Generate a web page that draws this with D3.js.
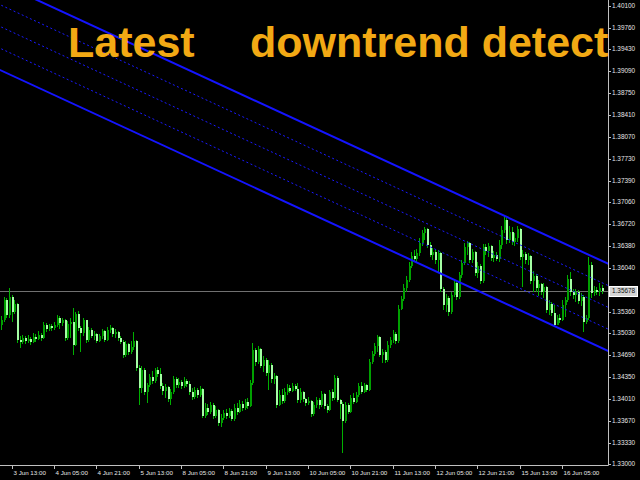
<!DOCTYPE html>
<html><head><meta charset="utf-8">
<script src="https://cdn.jsdelivr.net/npm/d3@7"></script>
<style>html,body{margin:0;padding:0;background:#000;} svg{display:block}</style>
</head><body>
<svg id="chart" width="640" height="480"></svg>
<script>
// ---------- data (H1 bars, 3 Jun 09:00 .. 16 Jun) ----------
const firstOpen = 1.3516;
const closes = [
1.3523,1.3554,1.3531,1.3559,1.3536,1.3548,1.3492,1.3489,1.3495,1.3491,
1.3494,1.3489,1.3497,1.3494,1.3500,1.3495,1.3516,1.3509,1.3514,1.3511,
1.3516,1.3526,1.3519,1.3523,1.3495,1.3517,1.3520,1.3485,1.3533,1.3511,
1.3503,1.3523,1.3492,1.3508,1.3498,1.3502,1.3491,1.3498,1.3506,1.3492,
1.3508,1.3511,1.3502,1.3505,1.3495,1.3489,1.3469,1.3486,1.3474,1.3481,
1.3491,1.3449,1.3418,1.3446,1.3412,1.3423,1.3435,1.3429,1.3446,1.3440,
1.3421,1.3413,1.3419,1.3401,1.3412,1.3432,1.3423,1.3427,1.3421,1.3429,
1.3424,1.3412,1.3404,1.3415,1.3407,1.3416,1.3374,1.3387,1.3381,1.3392,
1.3374,1.3384,1.3364,1.3371,1.3379,1.3374,1.3382,1.3370,1.3387,1.3381,
1.3393,1.3387,1.3396,1.3390,1.3426,1.3477,1.3458,1.3478,1.3452,1.3461,
1.3441,1.3454,1.3432,1.3436,1.3392,1.3407,1.3398,1.3412,1.3418,1.3413,
1.3421,1.3416,1.3399,1.3412,1.3401,1.3395,1.3398,1.3378,1.3392,1.3399,
1.3392,1.3409,1.3390,1.3384,1.3412,1.3402,1.3433,1.3399,1.3393,1.3367,
1.3392,1.3381,1.3402,1.3396,1.3407,1.3421,1.3412,1.3423,1.3415,1.3458,
1.3471,1.3483,1.3497,1.3469,1.3474,1.3461,1.3485,1.3492,1.3502,1.3491,
1.3540,1.3556,1.3573,1.3585,1.3607,1.3622,1.3618,1.3627,1.3643,1.3658,
1.3664,1.3640,1.3624,1.3629,1.3616,1.3627,1.3571,1.3547,1.3557,1.3536,
1.3562,1.3581,1.3559,1.3593,1.3612,1.3636,1.3643,1.3616,1.3629,1.3596,
1.3607,1.3584,1.3636,1.3630,1.3638,1.3619,1.3624,1.3618,1.3640,1.3663,
1.3678,1.3647,1.3660,1.3644,1.3650,1.3664,1.3621,1.3626,1.3616,1.3622,
1.3584,1.3591,1.3573,1.3579,1.3567,1.3574,1.3539,1.3548,1.3534,1.3516,
1.3526,1.3523,1.3547,1.3554,1.3587,1.3567,1.3562,1.3567,1.3553,1.3559,
1.3520,1.3526,1.3609,1.3565,1.3570,1.3567,1.3573,1.35678
];
const highs = [
1.3529,1.3559,1.3557,1.3573,1.3562,1.3554,1.3550,1.3498,1.3500,1.3498,
1.3500,1.3497,1.3503,1.3502,1.3506,1.3503,1.3520,1.3519,1.3517,1.3517,
1.3520,1.3531,1.3529,1.3526,1.3525,1.3522,1.3526,1.3542,1.3536,1.3537,
1.3514,1.3526,1.3523,1.3512,1.3511,1.3506,1.3503,1.3502,1.3509,1.3508,
1.3512,1.3516,1.3512,1.3509,1.3506,1.3498,1.3492,1.3491,1.3488,1.3491,
1.3505,1.3492,1.3454,1.3452,1.3449,1.3426,1.3440,1.3444,1.3449,1.3450,
1.3449,1.3426,1.3424,1.3421,1.3416,1.3436,1.3435,1.3433,1.3430,1.3435,
1.3432,1.3429,1.3418,1.3419,1.3418,1.3421,1.3418,1.3395,1.3393,1.3396,
1.3395,1.3390,1.3385,1.3378,1.3384,1.3385,1.3387,1.3385,1.3393,1.3395,
1.3399,1.3398,1.3401,1.3402,1.3430,1.3488,1.3480,1.3483,1.3480,1.3467,
1.3464,1.3461,1.3457,1.3441,1.3438,1.3415,1.3416,1.3418,1.3424,1.3423,
1.3426,1.3424,1.3426,1.3418,1.3413,1.3402,1.3404,1.3399,1.3396,1.3404,
1.3402,1.3413,1.3410,1.3393,1.3415,1.3416,1.3438,1.3436,1.3401,1.3396,
1.3396,1.3395,1.3407,1.3410,1.3412,1.3426,1.3427,1.3426,1.3424,1.3463,
1.3475,1.3488,1.3500,1.3498,1.3478,1.3477,1.3491,1.3497,1.3508,1.3505,
1.3547,1.3560,1.3579,1.3591,1.3613,1.3629,1.3632,1.3633,1.3650,1.3663,
1.3667,1.3666,1.3644,1.3635,1.3632,1.3632,1.3629,1.3574,1.3564,1.3560,
1.3567,1.3585,1.3584,1.3598,1.3616,1.3643,1.3646,1.3644,1.3633,1.3630,
1.3613,1.3610,1.3641,1.3641,1.3643,1.3640,1.3630,1.3629,1.3647,1.3669,
1.3684,1.3681,1.3669,1.3667,1.3658,1.3669,1.3666,1.3632,1.3629,1.3627,
1.3624,1.3599,1.3595,1.3585,1.3581,1.3581,1.3576,1.3554,1.3551,1.3547,
1.3531,1.3533,1.3554,1.3559,1.3593,1.3598,1.3571,1.3571,1.3570,1.3565,
1.3562,1.3531,1.3621,1.3613,1.3576,1.3574,1.3581,1.3578
];
const lows = [
1.3508,1.3520,1.3526,1.3526,1.3520,1.3533,1.3488,1.3480,1.3486,1.3486,
1.3488,1.3485,1.3488,1.3489,1.3492,1.3491,1.3494,1.3505,1.3506,1.3506,
1.3508,1.3512,1.3509,1.3514,1.3491,1.3492,1.3495,1.3469,1.3483,1.3506,
1.3474,1.3498,1.3488,1.3489,1.3495,1.3492,1.3488,1.3489,1.3494,1.3489,
1.3491,1.3503,1.3497,1.3495,1.3491,1.3486,1.3464,1.3466,1.3469,1.3471,
1.3477,1.3444,1.3392,1.3410,1.3407,1.3395,1.3419,1.3424,1.3426,1.3435,
1.3416,1.3407,1.3402,1.3396,1.3392,1.3409,1.3418,1.3418,1.3416,1.3418,
1.3419,1.3407,1.3399,1.3401,1.3402,1.3404,1.3371,1.3371,1.3376,1.3378,
1.3370,1.3371,1.3359,1.3357,1.3368,1.3370,1.3371,1.3367,1.3367,1.3376,
1.3379,1.3382,1.3384,1.3385,1.3388,1.3423,1.3452,1.3455,1.3449,1.3443,
1.3436,1.3415,1.3426,1.3424,1.3387,1.3390,1.3393,1.3395,1.3407,1.3410,
1.3412,1.3413,1.3395,1.3395,1.3396,1.3390,1.3392,1.3373,1.3374,1.3387,
1.3385,1.3388,1.3385,1.3379,1.3382,1.3398,1.3399,1.3396,1.3370,1.3317,
1.3364,1.3378,1.3379,1.3393,1.3395,1.3404,1.3409,1.3410,1.3412,1.3413,
1.3455,1.3467,1.3474,1.3466,1.3457,1.3457,1.3458,1.3480,1.3488,1.3486,
1.3488,1.3539,1.3553,1.3567,1.3582,1.3604,1.3613,1.3613,1.3622,1.3638,
1.3647,1.3635,1.3621,1.3616,1.3610,1.3598,1.3567,1.3539,1.3536,1.3529,
1.3533,1.3559,1.3554,1.3556,1.3588,1.3609,1.3624,1.3612,1.3612,1.3591,
1.3588,1.3579,1.3581,1.3624,1.3621,1.3615,1.3613,1.3615,1.3613,1.3633,
1.3658,1.3641,1.3643,1.3640,1.3638,1.3644,1.3616,1.3574,1.3610,1.3609,
1.3579,1.3567,1.3567,1.3560,1.3562,1.3557,1.3534,1.3531,1.3529,1.3512,
1.3520,1.3519,1.3522,1.3528,1.3551,1.3560,1.3556,1.3551,1.3548,1.3545,
1.3505,1.3517,1.3523,1.3557,1.3560,1.3562,1.3560,1.3564
];
const priceTicks = [1.40100,1.39760,1.39430,1.39090,1.38750,1.38410,1.38070,1.37730,1.37390,1.37060,
  1.36720,1.36380,1.36040,1.35360,1.35030,1.34690,1.34350,1.34010,1.33670,1.33330,1.33000];
const bidPrice = 1.35678;
const timeLabels = ["3 Jun 13:00","4 Jun 05:00","4 Jun 21:00","5 Jun 13:00","8 Jun 05:00","8 Jun 21:00",
  "9 Jun 13:00","10 Jun 05:00","10 Jun 21:00","11 Jun 13:00","12 Jun 05:00","12 Jun 21:00","15 Jun 13:00","16 Jun 05:00"];
const timeLabelBars = [4,20,36,52,68,84,100,116,132,148,164,180,196,212];
const channelBars = [0,227];
const channelUpper = [1.4045,1.3615];
const channelLower = [1.3910,1.3480];
const channelLevels = [0.25,0.5,0.75];
const titleWords = ["Latest","downtrend detect"];

// ---------- layout ----------
const plotR = 608, plotB = 465;
const svg = d3.select("#chart");
svg.append("rect").attr("width",640).attr("height",480).attr("fill","#000");

const x = d3.scaleLinear().domain([0, closes.length-1]).range([1.1, 601.7]);
const y = d3.scaleLinear().domain([1.33, 1.401]).range([464, 6]);

svg.append("defs").append("clipPath").attr("id","clip")
  .append("rect").attr("x",0).attr("y",0).attr("width",plotR).attr("height",plotB);

const plot = svg.append("g").attr("clip-path","url(#clip)");

// bid line
plot.append("line").attr("x1",0).attr("x2",plotR)
  .attr("y1",Math.round(y(bidPrice))+0.5).attr("y2",Math.round(y(bidPrice))+0.5)
  .attr("stroke","#707070").attr("stroke-width",1.2);

// candles
const data = closes.map((c,i)=>{
  const o = i===0 ? firstOpen : closes[i-1];
  return {i, o, c, h: Math.max(highs[i],o,c), l: Math.min(lows[i],o,c)};
});
const cg = plot.append("g").attr("shape-rendering","crispEdges");
cg.selectAll("line.wick").data(data).join("line").attr("class","wick")
  .attr("x1",d=>Math.round(x(d.i))+0.5).attr("x2",d=>Math.round(x(d.i))+0.5)
  .attr("y1",d=>y(d.h)).attr("y2",d=>y(d.l))
  .attr("stroke","#00b000").attr("stroke-width",1);
cg.selectAll("rect.body").data(data).join("rect").attr("class","body")
  .attr("x",d=>Math.round(x(d.i)))
  .attr("width",2)
  .attr("y",d=>y(Math.max(d.o,d.c)))
  .attr("height",d=>Math.max(1, Math.abs(y(d.o)-y(d.c))))
  .attr("fill",d=>d.c>=d.o ? "#00a000" : "#a4ffa4");

// channel
const slope = (channelUpper[1]-channelUpper[0])/(channelBars[1]-channelBars[0]);
const width = channelUpper[0]-channelLower[0];
const b0 = -20, b1 = closes.length + 5;
function chanLine(frac){
  const p0 = channelUpper[0] - frac*width + slope*(b0-channelBars[0]);
  const p1 = channelUpper[0] - frac*width + slope*(b1-channelBars[0]);
  return [[x(b0),y(p0)],[x(b1),y(p1)]];
}
const lg = plot.append("g");
channelLevels.forEach(f=>{
  const L = chanLine(f);
  lg.append("line").attr("x1",L[0][0]).attr("y1",L[0][1]).attr("x2",L[1][0]).attr("y2",L[1][1])
    .attr("stroke","#1a1aff").attr("stroke-width",1).attr("stroke-dasharray","2,2.5");
});
[0,1].forEach(f=>{
  const L = chanLine(f);
  lg.append("line").attr("x1",L[0][0]).attr("y1",L[0][1]).attr("x2",L[1][0]).attr("y2",L[1][1])
    .attr("stroke","#1414ff").attr("stroke-width",2);
});

// frame
svg.append("line").attr("x1",plotR+0.5).attr("x2",plotR+0.5).attr("y1",0).attr("y2",plotB+0.5)
  .attr("stroke","#c0c0c0").attr("stroke-width",1);
svg.append("line").attr("x1",0).attr("x2",plotR+0.5).attr("y1",plotB+0.5).attr("y2",plotB+0.5)
  .attr("stroke","#c0c0c0").attr("stroke-width",1);

// price axis
const fontAxis = "'Liberation Sans', Arial, sans-serif";
const pa = svg.append("g");
pa.selectAll("line").data(priceTicks).join("line")
  .attr("x1",plotR).attr("x2",plotR+3)
  .attr("y1",d=>Math.round(y(d))+0.5).attr("y2",d=>Math.round(y(d))+0.5)
  .attr("stroke","#c0c0c0");
pa.selectAll("text").data(priceTicks).join("text")
  .attr("x",612).attr("y",d=>y(d)).attr("dy","0.35em")
  .attr("fill","#e6e6e6").attr("font-family",fontAxis).attr("font-size",6.4)
  .text(d=>d.toFixed(5));

// bid label
const by = y(bidPrice);
svg.append("rect").attr("x",609.5).attr("y",Math.round(by)-4.5).attr("width",28).attr("height",10)
  .attr("fill","#d4d4d4").attr("stroke","#ffffff").attr("stroke-width",1);
svg.append("text").attr("x",612).attr("y",by).attr("dy","0.35em")
  .attr("fill","#101010").attr("font-family",fontAxis).attr("font-size",6.4)
  .text(bidPrice.toFixed(5));

// time axis
const ta = svg.append("g");
ta.selectAll("line").data(timeLabelBars).join("line")
  .attr("x1",d=>Math.round(x(d))+0.5).attr("x2",d=>Math.round(x(d))+0.5)
  .attr("y1",plotB).attr("y2",plotB+4)
  .attr("stroke","#c0c0c0");
ta.selectAll("text").data(timeLabels).join("text")
  .attr("x",(d,i)=>Math.round(x(timeLabelBars[i]))+1.5).attr("y",474.5)
  .attr("fill","#e6e6e6").attr("font-family",fontAxis).attr("font-size",6.2)
  .text(d=>d);

// title
const tg = svg.append("g").attr("font-family","'Liberation Sans', Arial, sans-serif")
  .attr("font-weight","bold").attr("font-size",43).attr("fill","#f2a914");
tg.append("text").attr("x",68).attr("y",57).text(titleWords[0]);
tg.append("text").attr("x",250).attr("y",57).text(titleWords[1]);
</script>
</body></html>
